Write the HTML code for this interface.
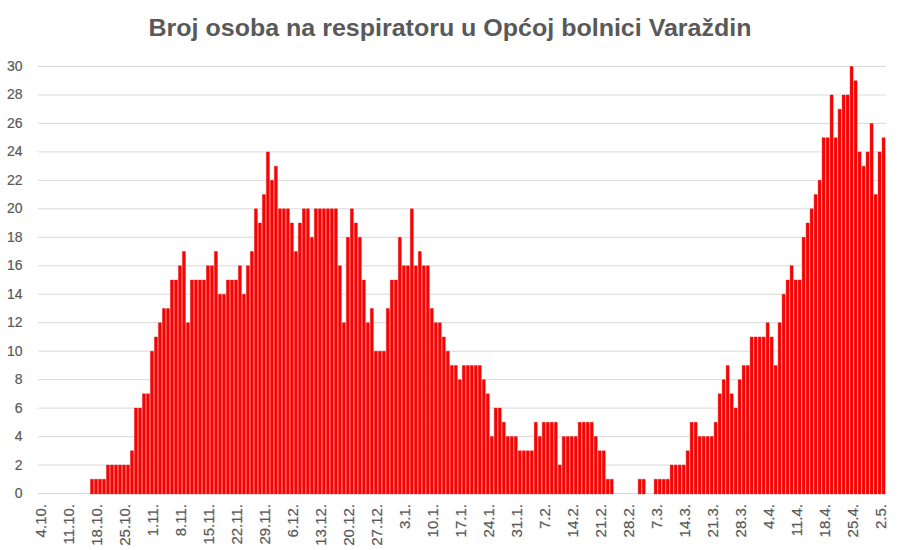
<!DOCTYPE html><html><head><meta charset="utf-8"><style>html,body{margin:0;padding:0;background:#fff;width:900px;height:550px;overflow:hidden}svg{display:block}text{font-family:"Liberation Sans",sans-serif}</style></head><body>
<svg width="900" height="550" viewBox="0 0 900 550">
<rect width="900" height="550" fill="#fff"/>
<path d="M38 493.50H886 M38 465.03H886 M38 436.57H886 M38 408.10H886 M38 379.64H886 M38 351.17H886 M38 322.70H886 M38 294.24H886 M38 265.77H886 M38 237.31H886 M38 208.84H886 M38 180.37H886 M38 151.91H886 M38 123.44H886 M38 94.98H886 M38 66.51H886" stroke="#d9d9d9" stroke-width="1" fill="none"/>
<path d="M89.97 479.27h3.998V494h-3.998Z M93.97 479.27h3.998V494h-3.998Z M97.97 479.27h3.998V494h-3.998Z M101.97 479.27h3.998V494h-3.998Z M105.97 465.03h3.998V494h-3.998Z M109.96 465.03h3.998V494h-3.998Z M113.96 465.03h3.998V494h-3.998Z M117.96 465.03h3.998V494h-3.998Z M121.96 465.03h3.998V494h-3.998Z M125.96 465.03h3.998V494h-3.998Z M129.95 450.80h3.998V494h-3.998Z M133.95 408.10h3.998V494h-3.998Z M137.95 408.10h3.998V494h-3.998Z M141.95 393.87h3.998V494h-3.998Z M145.95 393.87h3.998V494h-3.998Z M149.94 351.17h3.998V494h-3.998Z M153.94 336.94h3.998V494h-3.998Z M157.94 322.70h3.998V494h-3.998Z M161.94 308.47h3.998V494h-3.998Z M165.94 308.47h3.998V494h-3.998Z M169.93 280.00h3.998V494h-3.998Z M173.93 280.00h3.998V494h-3.998Z M177.93 265.77h3.998V494h-3.998Z M181.93 251.54h3.998V494h-3.998Z M185.93 322.70h3.998V494h-3.998Z M189.92 280.00h3.998V494h-3.998Z M193.92 280.00h3.998V494h-3.998Z M197.92 280.00h3.998V494h-3.998Z M201.92 280.00h3.998V494h-3.998Z M205.92 265.77h3.998V494h-3.998Z M209.91 265.77h3.998V494h-3.998Z M213.91 251.54h3.998V494h-3.998Z M217.91 294.24h3.998V494h-3.998Z M221.91 294.24h3.998V494h-3.998Z M225.91 280.00h3.998V494h-3.998Z M229.90 280.00h3.998V494h-3.998Z M233.90 280.00h3.998V494h-3.998Z M237.90 265.77h3.998V494h-3.998Z M241.90 294.24h3.998V494h-3.998Z M245.90 265.77h3.998V494h-3.998Z M249.89 251.54h3.998V494h-3.998Z M253.89 208.84h3.998V494h-3.998Z M257.89 223.07h3.998V494h-3.998Z M261.89 194.61h3.998V494h-3.998Z M265.89 151.91h3.998V494h-3.998Z M269.88 180.37h3.998V494h-3.998Z M273.88 166.14h3.998V494h-3.998Z M277.88 208.84h3.998V494h-3.998Z M281.88 208.84h3.998V494h-3.998Z M285.88 208.84h3.998V494h-3.998Z M289.87 223.07h3.998V494h-3.998Z M293.87 251.54h3.998V494h-3.998Z M297.87 223.07h3.998V494h-3.998Z M301.87 208.84h3.998V494h-3.998Z M305.87 208.84h3.998V494h-3.998Z M309.86 237.31h3.998V494h-3.998Z M313.86 208.84h3.998V494h-3.998Z M317.86 208.84h3.998V494h-3.998Z M321.86 208.84h3.998V494h-3.998Z M325.86 208.84h3.998V494h-3.998Z M329.85 208.84h3.998V494h-3.998Z M333.85 208.84h3.998V494h-3.998Z M337.85 265.77h3.998V494h-3.998Z M341.85 322.70h3.998V494h-3.998Z M345.85 237.31h3.998V494h-3.998Z M349.84 208.84h3.998V494h-3.998Z M353.84 223.07h3.998V494h-3.998Z M357.84 237.31h3.998V494h-3.998Z M361.84 280.00h3.998V494h-3.998Z M365.84 322.70h3.998V494h-3.998Z M369.83 308.47h3.998V494h-3.998Z M373.83 351.17h3.998V494h-3.998Z M377.83 351.17h3.998V494h-3.998Z M381.83 351.17h3.998V494h-3.998Z M385.83 308.47h3.998V494h-3.998Z M389.82 280.00h3.998V494h-3.998Z M393.82 280.00h3.998V494h-3.998Z M397.82 237.31h3.998V494h-3.998Z M401.82 265.77h3.998V494h-3.998Z M405.82 265.77h3.998V494h-3.998Z M409.81 208.84h3.998V494h-3.998Z M413.81 265.77h3.998V494h-3.998Z M417.81 251.54h3.998V494h-3.998Z M421.81 265.77h3.998V494h-3.998Z M425.81 265.77h3.998V494h-3.998Z M429.80 308.47h3.998V494h-3.998Z M433.80 322.70h3.998V494h-3.998Z M437.80 322.70h3.998V494h-3.998Z M441.80 336.94h3.998V494h-3.998Z M445.80 351.17h3.998V494h-3.998Z M449.79 365.40h3.998V494h-3.998Z M453.79 365.40h3.998V494h-3.998Z M457.79 379.64h3.998V494h-3.998Z M461.79 365.40h3.998V494h-3.998Z M465.79 365.40h3.998V494h-3.998Z M469.78 365.40h3.998V494h-3.998Z M473.78 365.40h3.998V494h-3.998Z M477.78 365.40h3.998V494h-3.998Z M481.78 379.64h3.998V494h-3.998Z M485.78 393.87h3.998V494h-3.998Z M489.77 436.57h3.998V494h-3.998Z M493.77 408.10h3.998V494h-3.998Z M497.77 408.10h3.998V494h-3.998Z M501.77 422.33h3.998V494h-3.998Z M505.77 436.57h3.998V494h-3.998Z M509.76 436.57h3.998V494h-3.998Z M513.76 436.57h3.998V494h-3.998Z M517.76 450.80h3.998V494h-3.998Z M521.76 450.80h3.998V494h-3.998Z M525.76 450.80h3.998V494h-3.998Z M529.75 450.80h3.998V494h-3.998Z M533.75 422.33h3.998V494h-3.998Z M537.75 436.57h3.998V494h-3.998Z M541.75 422.33h3.998V494h-3.998Z M545.75 422.33h3.998V494h-3.998Z M549.74 422.33h3.998V494h-3.998Z M553.74 422.33h3.998V494h-3.998Z M557.74 465.03h3.998V494h-3.998Z M561.74 436.57h3.998V494h-3.998Z M565.74 436.57h3.998V494h-3.998Z M569.73 436.57h3.998V494h-3.998Z M573.73 436.57h3.998V494h-3.998Z M577.73 422.33h3.998V494h-3.998Z M581.73 422.33h3.998V494h-3.998Z M585.73 422.33h3.998V494h-3.998Z M589.72 422.33h3.998V494h-3.998Z M593.72 436.57h3.998V494h-3.998Z M597.72 450.80h3.998V494h-3.998Z M601.72 450.80h3.998V494h-3.998Z M605.72 479.27h3.998V494h-3.998Z M609.71 479.27h3.998V494h-3.998Z M637.70 479.27h3.998V494h-3.998Z M641.70 479.27h3.998V494h-3.998Z M653.69 479.27h3.998V494h-3.998Z M657.69 479.27h3.998V494h-3.998Z M661.69 479.27h3.998V494h-3.998Z M665.69 479.27h3.998V494h-3.998Z M669.68 465.03h3.998V494h-3.998Z M673.68 465.03h3.998V494h-3.998Z M677.68 465.03h3.998V494h-3.998Z M681.68 465.03h3.998V494h-3.998Z M685.68 450.80h3.998V494h-3.998Z M689.67 422.33h3.998V494h-3.998Z M693.67 422.33h3.998V494h-3.998Z M697.67 436.57h3.998V494h-3.998Z M701.67 436.57h3.998V494h-3.998Z M705.67 436.57h3.998V494h-3.998Z M709.66 436.57h3.998V494h-3.998Z M713.66 422.33h3.998V494h-3.998Z M717.66 393.87h3.998V494h-3.998Z M721.66 379.64h3.998V494h-3.998Z M725.66 365.40h3.998V494h-3.998Z M729.65 393.87h3.998V494h-3.998Z M733.65 408.10h3.998V494h-3.998Z M737.65 379.64h3.998V494h-3.998Z M741.65 365.40h3.998V494h-3.998Z M745.65 365.40h3.998V494h-3.998Z M749.64 336.94h3.998V494h-3.998Z M753.64 336.94h3.998V494h-3.998Z M757.64 336.94h3.998V494h-3.998Z M761.64 336.94h3.998V494h-3.998Z M765.64 322.70h3.998V494h-3.998Z M769.63 336.94h3.998V494h-3.998Z M773.63 365.40h3.998V494h-3.998Z M777.63 322.70h3.998V494h-3.998Z M781.63 294.24h3.998V494h-3.998Z M785.63 280.00h3.998V494h-3.998Z M789.62 265.77h3.998V494h-3.998Z M793.62 280.00h3.998V494h-3.998Z M797.62 280.00h3.998V494h-3.998Z M801.62 237.31h3.998V494h-3.998Z M805.62 223.07h3.998V494h-3.998Z M809.61 208.84h3.998V494h-3.998Z M813.61 194.61h3.998V494h-3.998Z M817.61 180.37h3.998V494h-3.998Z M821.61 137.68h3.998V494h-3.998Z M825.61 137.68h3.998V494h-3.998Z M829.60 94.98h3.998V494h-3.998Z M833.60 137.68h3.998V494h-3.998Z M837.60 109.21h3.998V494h-3.998Z M841.60 94.98h3.998V494h-3.998Z M845.60 94.98h3.998V494h-3.998Z M849.59 66.51h3.998V494h-3.998Z M853.59 80.74h3.998V494h-3.998Z M857.59 151.91h3.998V494h-3.998Z M861.59 166.14h3.998V494h-3.998Z M865.59 151.91h3.998V494h-3.998Z M869.58 123.44h3.998V494h-3.998Z M873.58 194.61h3.998V494h-3.998Z M877.58 151.91h3.998V494h-3.998Z M881.58 137.68h3.998V494h-3.998Z" fill="#ffffff"/>
<path d="M90.47 479.27h3.00V494h-3.00Z M94.47 479.27h3.00V494h-3.00Z M98.47 479.27h3.00V494h-3.00Z M102.47 479.27h3.00V494h-3.00Z M106.47 465.03h3.00V494h-3.00Z M110.46 465.03h3.00V494h-3.00Z M114.46 465.03h3.00V494h-3.00Z M118.46 465.03h3.00V494h-3.00Z M122.46 465.03h3.00V494h-3.00Z M126.45 465.03h3.00V494h-3.00Z M130.45 450.80h3.00V494h-3.00Z M134.45 408.10h3.00V494h-3.00Z M138.45 408.10h3.00V494h-3.00Z M142.45 393.87h3.00V494h-3.00Z M146.45 393.87h3.00V494h-3.00Z M150.44 351.17h3.00V494h-3.00Z M154.44 336.94h3.00V494h-3.00Z M158.44 322.70h3.00V494h-3.00Z M162.44 308.47h3.00V494h-3.00Z M166.44 308.47h3.00V494h-3.00Z M170.43 280.00h3.00V494h-3.00Z M174.43 280.00h3.00V494h-3.00Z M178.43 265.77h3.00V494h-3.00Z M182.43 251.54h3.00V494h-3.00Z M186.43 322.70h3.00V494h-3.00Z M190.42 280.00h3.00V494h-3.00Z M194.42 280.00h3.00V494h-3.00Z M198.42 280.00h3.00V494h-3.00Z M202.42 280.00h3.00V494h-3.00Z M206.41 265.77h3.00V494h-3.00Z M210.41 265.77h3.00V494h-3.00Z M214.41 251.54h3.00V494h-3.00Z M218.41 294.24h3.00V494h-3.00Z M222.41 294.24h3.00V494h-3.00Z M226.41 280.00h3.00V494h-3.00Z M230.40 280.00h3.00V494h-3.00Z M234.40 280.00h3.00V494h-3.00Z M238.40 265.77h3.00V494h-3.00Z M242.40 294.24h3.00V494h-3.00Z M246.40 265.77h3.00V494h-3.00Z M250.39 251.54h3.00V494h-3.00Z M254.39 208.84h3.00V494h-3.00Z M258.39 223.07h3.00V494h-3.00Z M262.39 194.61h3.00V494h-3.00Z M266.39 151.91h3.00V494h-3.00Z M270.38 180.37h3.00V494h-3.00Z M274.38 166.14h3.00V494h-3.00Z M278.38 208.84h3.00V494h-3.00Z M282.38 208.84h3.00V494h-3.00Z M286.38 208.84h3.00V494h-3.00Z M290.37 223.07h3.00V494h-3.00Z M294.37 251.54h3.00V494h-3.00Z M298.37 223.07h3.00V494h-3.00Z M302.37 208.84h3.00V494h-3.00Z M306.37 208.84h3.00V494h-3.00Z M310.36 237.31h3.00V494h-3.00Z M314.36 208.84h3.00V494h-3.00Z M318.36 208.84h3.00V494h-3.00Z M322.36 208.84h3.00V494h-3.00Z M326.36 208.84h3.00V494h-3.00Z M330.35 208.84h3.00V494h-3.00Z M334.35 208.84h3.00V494h-3.00Z M338.35 265.77h3.00V494h-3.00Z M342.35 322.70h3.00V494h-3.00Z M346.35 237.31h3.00V494h-3.00Z M350.34 208.84h3.00V494h-3.00Z M354.34 223.07h3.00V494h-3.00Z M358.34 237.31h3.00V494h-3.00Z M362.34 280.00h3.00V494h-3.00Z M366.34 322.70h3.00V494h-3.00Z M370.33 308.47h3.00V494h-3.00Z M374.33 351.17h3.00V494h-3.00Z M378.33 351.17h3.00V494h-3.00Z M382.33 351.17h3.00V494h-3.00Z M386.33 308.47h3.00V494h-3.00Z M390.32 280.00h3.00V494h-3.00Z M394.32 280.00h3.00V494h-3.00Z M398.32 237.31h3.00V494h-3.00Z M402.32 265.77h3.00V494h-3.00Z M406.32 265.77h3.00V494h-3.00Z M410.31 208.84h3.00V494h-3.00Z M414.31 265.77h3.00V494h-3.00Z M418.31 251.54h3.00V494h-3.00Z M422.31 265.77h3.00V494h-3.00Z M426.31 265.77h3.00V494h-3.00Z M430.30 308.47h3.00V494h-3.00Z M434.30 322.70h3.00V494h-3.00Z M438.30 322.70h3.00V494h-3.00Z M442.30 336.94h3.00V494h-3.00Z M446.30 351.17h3.00V494h-3.00Z M450.29 365.40h3.00V494h-3.00Z M454.29 365.40h3.00V494h-3.00Z M458.29 379.64h3.00V494h-3.00Z M462.29 365.40h3.00V494h-3.00Z M466.29 365.40h3.00V494h-3.00Z M470.28 365.40h3.00V494h-3.00Z M474.28 365.40h3.00V494h-3.00Z M478.28 365.40h3.00V494h-3.00Z M482.28 379.64h3.00V494h-3.00Z M486.28 393.87h3.00V494h-3.00Z M490.27 436.57h3.00V494h-3.00Z M494.27 408.10h3.00V494h-3.00Z M498.27 408.10h3.00V494h-3.00Z M502.27 422.33h3.00V494h-3.00Z M506.27 436.57h3.00V494h-3.00Z M510.26 436.57h3.00V494h-3.00Z M514.26 436.57h3.00V494h-3.00Z M518.26 450.80h3.00V494h-3.00Z M522.26 450.80h3.00V494h-3.00Z M526.26 450.80h3.00V494h-3.00Z M530.25 450.80h3.00V494h-3.00Z M534.25 422.33h3.00V494h-3.00Z M538.25 436.57h3.00V494h-3.00Z M542.25 422.33h3.00V494h-3.00Z M546.25 422.33h3.00V494h-3.00Z M550.24 422.33h3.00V494h-3.00Z M554.24 422.33h3.00V494h-3.00Z M558.24 465.03h3.00V494h-3.00Z M562.24 436.57h3.00V494h-3.00Z M566.24 436.57h3.00V494h-3.00Z M570.23 436.57h3.00V494h-3.00Z M574.23 436.57h3.00V494h-3.00Z M578.23 422.33h3.00V494h-3.00Z M582.23 422.33h3.00V494h-3.00Z M586.23 422.33h3.00V494h-3.00Z M590.22 422.33h3.00V494h-3.00Z M594.22 436.57h3.00V494h-3.00Z M598.22 450.80h3.00V494h-3.00Z M602.22 450.80h3.00V494h-3.00Z M606.22 479.27h3.00V494h-3.00Z M610.21 479.27h3.00V494h-3.00Z M638.20 479.27h3.00V494h-3.00Z M642.20 479.27h3.00V494h-3.00Z M654.19 479.27h3.00V494h-3.00Z M658.19 479.27h3.00V494h-3.00Z M662.19 479.27h3.00V494h-3.00Z M666.19 479.27h3.00V494h-3.00Z M670.18 465.03h3.00V494h-3.00Z M674.18 465.03h3.00V494h-3.00Z M678.18 465.03h3.00V494h-3.00Z M682.18 465.03h3.00V494h-3.00Z M686.18 450.80h3.00V494h-3.00Z M690.17 422.33h3.00V494h-3.00Z M694.17 422.33h3.00V494h-3.00Z M698.17 436.57h3.00V494h-3.00Z M702.17 436.57h3.00V494h-3.00Z M706.17 436.57h3.00V494h-3.00Z M710.16 436.57h3.00V494h-3.00Z M714.16 422.33h3.00V494h-3.00Z M718.16 393.87h3.00V494h-3.00Z M722.16 379.64h3.00V494h-3.00Z M726.16 365.40h3.00V494h-3.00Z M730.15 393.87h3.00V494h-3.00Z M734.15 408.10h3.00V494h-3.00Z M738.15 379.64h3.00V494h-3.00Z M742.15 365.40h3.00V494h-3.00Z M746.15 365.40h3.00V494h-3.00Z M750.14 336.94h3.00V494h-3.00Z M754.14 336.94h3.00V494h-3.00Z M758.14 336.94h3.00V494h-3.00Z M762.14 336.94h3.00V494h-3.00Z M766.14 322.70h3.00V494h-3.00Z M770.13 336.94h3.00V494h-3.00Z M774.13 365.40h3.00V494h-3.00Z M778.13 322.70h3.00V494h-3.00Z M782.13 294.24h3.00V494h-3.00Z M786.13 280.00h3.00V494h-3.00Z M790.12 265.77h3.00V494h-3.00Z M794.12 280.00h3.00V494h-3.00Z M798.12 280.00h3.00V494h-3.00Z M802.12 237.31h3.00V494h-3.00Z M806.12 223.07h3.00V494h-3.00Z M810.11 208.84h3.00V494h-3.00Z M814.11 194.61h3.00V494h-3.00Z M818.11 180.37h3.00V494h-3.00Z M822.11 137.68h3.00V494h-3.00Z M826.11 137.68h3.00V494h-3.00Z M830.10 94.98h3.00V494h-3.00Z M834.10 137.68h3.00V494h-3.00Z M838.10 109.21h3.00V494h-3.00Z M842.10 94.98h3.00V494h-3.00Z M846.10 94.98h3.00V494h-3.00Z M850.09 66.51h3.00V494h-3.00Z M854.09 80.74h3.00V494h-3.00Z M858.09 151.91h3.00V494h-3.00Z M862.09 166.14h3.00V494h-3.00Z M866.09 151.91h3.00V494h-3.00Z M870.08 123.44h3.00V494h-3.00Z M874.08 194.61h3.00V494h-3.00Z M878.08 151.91h3.00V494h-3.00Z M882.08 137.68h3.00V494h-3.00Z" fill="#ff0000" stroke="#c81414" stroke-width="0.4"/>
<text x="22.5" y="498.00" font-size="14" fill="#595959" stroke="#595959" stroke-width="0.2" text-anchor="end">0</text>
<text x="22.5" y="469.53" font-size="14" fill="#595959" stroke="#595959" stroke-width="0.2" text-anchor="end">2</text>
<text x="22.5" y="441.07" font-size="14" fill="#595959" stroke="#595959" stroke-width="0.2" text-anchor="end">4</text>
<text x="22.5" y="412.60" font-size="14" fill="#595959" stroke="#595959" stroke-width="0.2" text-anchor="end">6</text>
<text x="22.5" y="384.14" font-size="14" fill="#595959" stroke="#595959" stroke-width="0.2" text-anchor="end">8</text>
<text x="22.5" y="355.67" font-size="14" fill="#595959" stroke="#595959" stroke-width="0.2" text-anchor="end">10</text>
<text x="22.5" y="327.20" font-size="14" fill="#595959" stroke="#595959" stroke-width="0.2" text-anchor="end">12</text>
<text x="22.5" y="298.74" font-size="14" fill="#595959" stroke="#595959" stroke-width="0.2" text-anchor="end">14</text>
<text x="22.5" y="270.27" font-size="14" fill="#595959" stroke="#595959" stroke-width="0.2" text-anchor="end">16</text>
<text x="22.5" y="241.81" font-size="14" fill="#595959" stroke="#595959" stroke-width="0.2" text-anchor="end">18</text>
<text x="22.5" y="213.34" font-size="14" fill="#595959" stroke="#595959" stroke-width="0.2" text-anchor="end">20</text>
<text x="22.5" y="184.87" font-size="14" fill="#595959" stroke="#595959" stroke-width="0.2" text-anchor="end">22</text>
<text x="22.5" y="156.41" font-size="14" fill="#595959" stroke="#595959" stroke-width="0.2" text-anchor="end">24</text>
<text x="22.5" y="127.94" font-size="14" fill="#595959" stroke="#595959" stroke-width="0.2" text-anchor="end">26</text>
<text x="22.5" y="99.48" font-size="14" fill="#595959" stroke="#595959" stroke-width="0.2" text-anchor="end">28</text>
<text x="22.5" y="71.01" font-size="14" fill="#595959" stroke="#595959" stroke-width="0.2" text-anchor="end">30</text>
<text transform="translate(46.20 504) rotate(-90)" font-size="15" fill="#595959" stroke="#595959" stroke-width="0.2" text-anchor="end">4.10.</text>
<text transform="translate(74.19 504) rotate(-90)" font-size="15" fill="#595959" stroke="#595959" stroke-width="0.2" text-anchor="end">11.10.</text>
<text transform="translate(102.17 504) rotate(-90)" font-size="15" fill="#595959" stroke="#595959" stroke-width="0.2" text-anchor="end">18.10.</text>
<text transform="translate(130.16 504) rotate(-90)" font-size="15" fill="#595959" stroke="#595959" stroke-width="0.2" text-anchor="end">25.10.</text>
<text transform="translate(158.14 504) rotate(-90)" font-size="15" fill="#595959" stroke="#595959" stroke-width="0.2" text-anchor="end">1.11.</text>
<text transform="translate(186.13 504) rotate(-90)" font-size="15" fill="#595959" stroke="#595959" stroke-width="0.2" text-anchor="end">8.11.</text>
<text transform="translate(214.12 504) rotate(-90)" font-size="15" fill="#595959" stroke="#595959" stroke-width="0.2" text-anchor="end">15.11.</text>
<text transform="translate(242.10 504) rotate(-90)" font-size="15" fill="#595959" stroke="#595959" stroke-width="0.2" text-anchor="end">22.11.</text>
<text transform="translate(270.09 504) rotate(-90)" font-size="15" fill="#595959" stroke="#595959" stroke-width="0.2" text-anchor="end">29.11.</text>
<text transform="translate(298.07 504) rotate(-90)" font-size="15" fill="#595959" stroke="#595959" stroke-width="0.2" text-anchor="end">6.12.</text>
<text transform="translate(326.06 504) rotate(-90)" font-size="15" fill="#595959" stroke="#595959" stroke-width="0.2" text-anchor="end">13.12.</text>
<text transform="translate(354.05 504) rotate(-90)" font-size="15" fill="#595959" stroke="#595959" stroke-width="0.2" text-anchor="end">20.12.</text>
<text transform="translate(382.03 504) rotate(-90)" font-size="15" fill="#595959" stroke="#595959" stroke-width="0.2" text-anchor="end">27.12.</text>
<text transform="translate(410.02 504) rotate(-90)" font-size="15" fill="#595959" stroke="#595959" stroke-width="0.2" text-anchor="end">3.1.</text>
<text transform="translate(438.00 504) rotate(-90)" font-size="15" fill="#595959" stroke="#595959" stroke-width="0.2" text-anchor="end">10.1.</text>
<text transform="translate(465.99 504) rotate(-90)" font-size="15" fill="#595959" stroke="#595959" stroke-width="0.2" text-anchor="end">17.1.</text>
<text transform="translate(493.98 504) rotate(-90)" font-size="15" fill="#595959" stroke="#595959" stroke-width="0.2" text-anchor="end">24.1.</text>
<text transform="translate(521.96 504) rotate(-90)" font-size="15" fill="#595959" stroke="#595959" stroke-width="0.2" text-anchor="end">31.1.</text>
<text transform="translate(549.95 504) rotate(-90)" font-size="15" fill="#595959" stroke="#595959" stroke-width="0.2" text-anchor="end">7.2.</text>
<text transform="translate(577.93 504) rotate(-90)" font-size="15" fill="#595959" stroke="#595959" stroke-width="0.2" text-anchor="end">14.2.</text>
<text transform="translate(605.92 504) rotate(-90)" font-size="15" fill="#595959" stroke="#595959" stroke-width="0.2" text-anchor="end">21.2.</text>
<text transform="translate(633.91 504) rotate(-90)" font-size="15" fill="#595959" stroke="#595959" stroke-width="0.2" text-anchor="end">28.2.</text>
<text transform="translate(661.89 504) rotate(-90)" font-size="15" fill="#595959" stroke="#595959" stroke-width="0.2" text-anchor="end">7.3.</text>
<text transform="translate(689.88 504) rotate(-90)" font-size="15" fill="#595959" stroke="#595959" stroke-width="0.2" text-anchor="end">14.3.</text>
<text transform="translate(717.86 504) rotate(-90)" font-size="15" fill="#595959" stroke="#595959" stroke-width="0.2" text-anchor="end">21.3.</text>
<text transform="translate(745.85 504) rotate(-90)" font-size="15" fill="#595959" stroke="#595959" stroke-width="0.2" text-anchor="end">28.3.</text>
<text transform="translate(773.84 504) rotate(-90)" font-size="15" fill="#595959" stroke="#595959" stroke-width="0.2" text-anchor="end">4.4.</text>
<text transform="translate(801.82 504) rotate(-90)" font-size="15" fill="#595959" stroke="#595959" stroke-width="0.2" text-anchor="end">11.4.</text>
<text transform="translate(829.81 504) rotate(-90)" font-size="15" fill="#595959" stroke="#595959" stroke-width="0.2" text-anchor="end">18.4.</text>
<text transform="translate(857.79 504) rotate(-90)" font-size="15" fill="#595959" stroke="#595959" stroke-width="0.2" text-anchor="end">25.4.</text>
<text transform="translate(885.78 504) rotate(-90)" font-size="15" fill="#595959" stroke="#595959" stroke-width="0.2" text-anchor="end">2.5.</text>
<text x="450" y="35.9" font-size="24" font-weight="bold" fill="#595959" text-anchor="middle" textLength="603" lengthAdjust="spacingAndGlyphs">Broj osoba na respiratoru u Općoj bolnici Varaždin</text>
</svg></body></html>
